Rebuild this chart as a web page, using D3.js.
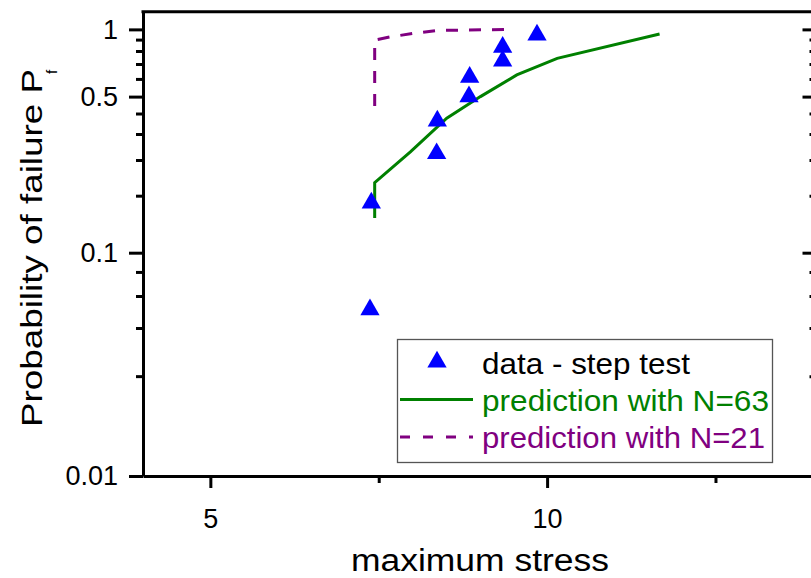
<!DOCTYPE html>
<html>
<head>
<meta charset="utf-8">
<script src="https://cdn.jsdelivr.net/npm/d3@7"></script>
<style>
  body { margin: 0; background: #fff; }
  text { font-family: "Liberation Sans", Arial, sans-serif; }
</style>
</head>
<body>
<svg id="chart" width="811" height="578"></svg>
<script>
// step test data (maximum stress vs. probability of failure)
const stressData = [7.37, 7.39, 8.36, 8.37, 8.84, 8.85, 9.34, 9.34, 9.85]
const pfData = [0.0556, 0.167, 0.278, 0.389, 0.5, 0.611, 0.722, 0.833, 0.944]

// prediction with N=63
const stress63 = [7.44, 7.44, 7.97, 8.51, 9.01, 9.55, 10.15, 11.67]
const pf63 = [0.143, 0.206, 0.283, 0.400, 0.500, 0.625, 0.742, 0.954]

// prediction with N=21
const stress21 = [7.44, 7.44, 7.67, 8.01, 8.38, 9.43]
const pf21 = [0.454, 0.896, 0.925, 0.959, 0.989, 0.9995]

// ticks
const xMajor = [5, 10]
const xMinor = [7.5, 12.5]
const yMajor = [0.01, 0.1, 0.5, 1]
const yLabels = ['0.01', '0.1', '0.5', '1']
const yMinor = [0.028, 0.046, 0.064, 0.082, 0.18, 0.26, 0.34, 0.42, 0.6, 0.7, 0.8, 0.9]

const legendRows = [
    { label: 'data - step test', color: '#000000', kind: 'symbol', len: 208 },
    { label: 'prediction with N=63', color: '#008000', kind: 'solid', len: 287 },
    { label: 'prediction with N=21', color: '#800080', kind: 'dash', len: 283 }
]

const plotLeft = 143, plotRight = 816.5, plotTop = 11.7, plotBottom = 476
const svg = d3.select('#chart')

const x = d3.scaleLinear().domain([4, 14]).range([plotLeft, plotRight])
const y = d3.scaleLog().domain([0.01, 1.2]).range([plotBottom, plotTop])

function styleAxis(g) {
    g.attr('font-family', '"Liberation Sans", Arial, sans-serif')
        .attr('font-size', 27)
    g.selectAll('line').attr('stroke', '#000').attr('stroke-width', 3)
    g.selectAll('path').attr('stroke', '#000').attr('stroke-width', 3)
    g.selectAll('text').attr('fill', '#000')
}

// minor ticks first
svg.append('g')
    .attr('transform', 'translate(' + plotLeft + ',0)')
    .call(d3.axisLeft(y).tickValues(yMinor).tickSize(7).tickFormat(''))
    .call(styleAxis)
    .call(g => g.select('.domain').remove())
svg.append('g')
    .attr('transform', 'translate(' + plotRight + ',0)')
    .call(d3.axisLeft(y).tickValues(yMinor).tickSize(7).tickFormat(''))
    .call(styleAxis)
    .call(g => g.select('.domain').remove())
svg.append('g')
    .attr('transform', 'translate(' + plotRight + ',0)')
    .call(d3.axisLeft(y).tickValues(yMajor).tickSize(14).tickFormat(''))
    .call(styleAxis)
    .call(g => g.select('.domain').remove())
svg.append('g')
    .attr('transform', 'translate(0,' + plotBottom + ')')
    .call(d3.axisBottom(x).tickValues(xMinor).tickSize(7).tickFormat(''))
    .call(styleAxis)
    .call(g => g.select('.domain').remove())

// major axes
svg.append('g')
    .attr('transform', 'translate(' + plotLeft + ',0)')
    .call(d3.axisLeft(y).tickValues(yMajor).tickSize(14).tickPadding(11)
        .tickSizeOuter(0).tickFormat((d, i) => yLabels[i]))
    .call(styleAxis)
svg.append('g')
    .attr('transform', 'translate(0,' + plotBottom + ')')
    .call(d3.axisBottom(x).tickValues(xMajor).tickSize(12).tickPadding(21)
        .tickSizeOuter(0).tickFormat(d3.format('d')))
    .call(styleAxis)

// top frame line
svg.append('line')
    .attr('x1', plotLeft - 1.5).attr('x2', plotRight)
    .attr('y1', plotTop).attr('y2', plotTop)
    .attr('stroke', '#000').attr('stroke-width', 3)

// axis titles
svg.append('text')
    .attr('x', 480).attr('y', 571)
    .attr('text-anchor', 'middle')
    .attr('font-size', 31)
    .attr('textLength', 258)
    .attr('lengthAdjust', 'spacingAndGlyphs')
    .text('maximum stress')

svg.append('text')
    .attr('transform', 'translate(42,427) rotate(-90)')
    .attr('font-size', 30)
    .attr('textLength', 358)
    .attr('lengthAdjust', 'spacingAndGlyphs')
    .text('Probability of failure P')
svg.append('text')
    .attr('transform', 'translate(57,74) rotate(-90)')
    .attr('font-size', 15)
    .text('f')

// prediction lines
const line = d3.line().x(d => x(d[0])).y(d => y(d[1]))

svg.append('path')
    .datum(d3.zip(stress63, pf63))
    .attr('d', line)
    .attr('fill', 'none')
    .attr('stroke', '#008000')
    .attr('stroke-width', 3)

svg.append('path')
    .datum(d3.zip(stress21, pf21))
    .attr('d', line)
    .attr('fill', 'none')
    .attr('stroke', '#800080')
    .attr('stroke-width', 3)
    .attr('stroke-dasharray', '12,11')

// data points
const tri = d3.symbol().type(d3.symbolTriangle).size(161)
svg.append('g')
    .selectAll('path')
    .data(d3.zip(stressData, pfData))
    .enter().append('path')
    .attr('d', tri)
    .attr('transform', d => 'translate(' + x(d[0]) + ',' + y(d[1]) + ')')
    .attr('fill', '#0000ff')

// legend
const legend = svg.append('g')
legend.append('rect')
    .attr('x', 397.5).attr('y', 339.5)
    .attr('width', 375).attr('height', 123)
    .attr('fill', '#fff')
    .attr('stroke', '#555')
    .attr('stroke-width', 1.3)

const rowY = [374, 410.5, 448]
legendRows.forEach((r, i) => {
    const cy = rowY[i] - 11
    if (r.kind === 'symbol') {
        legend.append('path')
            .attr('d', tri)
            .attr('transform', 'translate(437,' + (cy - 1) + ')')
            .attr('fill', '#0000ff')
    } else {
        legend.append('line')
            .attr('x1', 400).attr('x2', 473)
            .attr('y1', cy).attr('y2', cy)
            .attr('stroke', r.color)
            .attr('stroke-width', 3)
            .attr('stroke-dasharray', r.kind === 'dash' ? '10,13' : null)
    }
    legend.append('text')
        .attr('x', 482).attr('y', rowY[i])
        .attr('font-size', 29)
        .attr('fill', r.color)
        .attr('textLength', r.len)
        .attr('lengthAdjust', 'spacingAndGlyphs')
        .text(r.label)
})
</script>
</body>
</html>
